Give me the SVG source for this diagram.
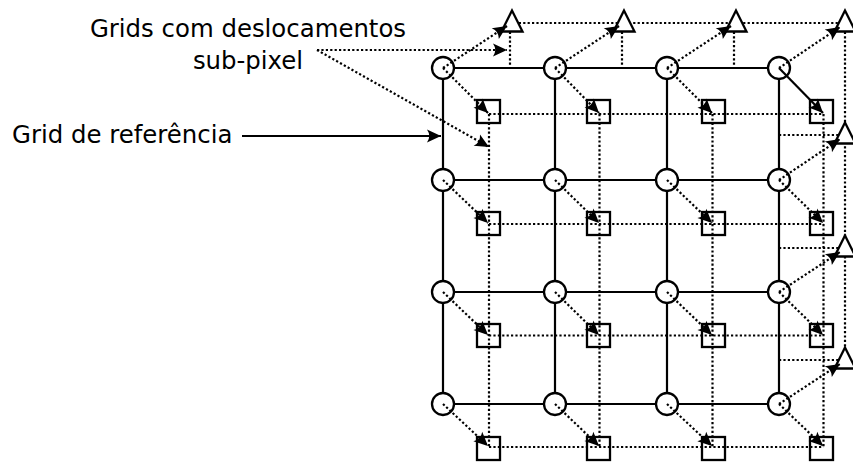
<svg xmlns="http://www.w3.org/2000/svg" width="853" height="464" viewBox="0 0 853 464">
<style>
.grid{stroke:#000;stroke-width:2.2;fill:none}
.dot{stroke:#000;stroke-width:2.2;stroke-dasharray:2.2 2.2;fill:none}
.arr{stroke:#000;stroke-width:2.2;stroke-dasharray:2.2 2.2;fill:none;marker-end:url(#ah)}
.sarr{stroke:#000;stroke-width:2.2;fill:none;marker-end:url(#ah)}
.c{fill:#fff;stroke:#000;stroke-width:2.3}
.s{fill:none;stroke:#000;stroke-width:2.3}
.t{fill:#fff;stroke:#000;stroke-width:2.3;stroke-linejoin:miter}
.lbl{font-family:"DejaVu Sans","Liberation Sans",sans-serif;font-size:24.4px;fill:#000}
</style>
<defs>
<marker id="ah" markerUnits="userSpaceOnUse" orient="auto" overflow="visible" markerWidth="1" markerHeight="1" refX="0" refY="0">
<path d="M0,0 L-14,-6.5 Q-9.5,0 -14,6.5 Z" fill="#000" stroke="none"/>
</marker>
<polygon id="tri" points="2,-12.5 -8.5,8.5 12.5,8.5"/>
</defs>
<rect width="853" height="464" fill="#fff"/>

<g id="connectors">
<path class="grid" d="M443,68H779M443,180H779M443,292H779M443,404H779M443,68V404M555,68V404M667,68V404M779,68V404"/>
<path class="dot" d="M489,114V447M599.5,114V447M712.5,114V447M823.5,114V447M489,114H823.5M489,224H823.5M489,335.5H823.5M489,447H823.5"/>
<path class="dot" d="M510,23H845M845,23V360M510,23V68M622,23V68M734,23V68M779,135H845M779,248H845M779,360H845"/>
<path class="sarr" d="M242,136H441"/>
<path class="arr" d="M317,50H507"/>
<path class="arr" d="M317,50L489,147"/>
</g>

<g id="nodes">
<g id="squares">
<rect id="sq11" class="s" x="477" y="100" width="23" height="23"/>
<rect id="sq12" class="s" x="587" y="100" width="23" height="23"/>
<rect id="sq13" class="s" x="702" y="100" width="23" height="23"/>
<rect id="sq14" class="s" x="810" y="100" width="23" height="23"/>
<rect id="sq21" class="s" x="477" y="212" width="23" height="23"/>
<rect id="sq22" class="s" x="587" y="212" width="23" height="23"/>
<rect id="sq23" class="s" x="702" y="212" width="23" height="23"/>
<rect id="sq24" class="s" x="810" y="212" width="23" height="23"/>
<rect id="sq31" class="s" x="477" y="324" width="23" height="23"/>
<rect id="sq32" class="s" x="587" y="324" width="23" height="23"/>
<rect id="sq33" class="s" x="702" y="324" width="23" height="23"/>
<rect id="sq34" class="s" x="810" y="324" width="23" height="23"/>
<rect id="sq41" class="s" x="477" y="437" width="23" height="23"/>
<rect id="sq42" class="s" x="587" y="437" width="23" height="23"/>
<rect id="sq43" class="s" x="702" y="437" width="23" height="23"/>
<rect id="sq44" class="s" x="810" y="437" width="23" height="23"/>
</g>
<g id="triangles">
<use id="tr1" href="#tri" class="t" x="510" y="23"/>
<use id="tr2" href="#tri" class="t" x="622" y="23"/>
<use id="tr3" href="#tri" class="t" x="734" y="23"/>
<use id="tr4" href="#tri" class="t" x="843" y="23"/>
<use id="tr5" href="#tri" class="t" x="843" y="135"/>
<use id="tr6" href="#tri" class="t" x="843" y="248"/>
<use id="tr7" href="#tri" class="t" x="843" y="360"/>
</g>
<g id="circles">
<circle id="c11" class="c" cx="443" cy="68" r="11"/>
<circle id="c12" class="c" cx="555" cy="68" r="11"/>
<circle id="c13" class="c" cx="667" cy="68" r="11"/>
<circle id="c14" class="c" cx="779" cy="68" r="11"/>
<circle id="c21" class="c" cx="443" cy="180" r="11"/>
<circle id="c22" class="c" cx="555" cy="180" r="11"/>
<circle id="c23" class="c" cx="667" cy="180" r="11"/>
<circle id="c24" class="c" cx="779" cy="180" r="11"/>
<circle id="c31" class="c" cx="443" cy="292" r="11"/>
<circle id="c32" class="c" cx="555" cy="292" r="11"/>
<circle id="c33" class="c" cx="667" cy="292" r="11"/>
<circle id="c34" class="c" cx="779" cy="292" r="11"/>
<circle id="c41" class="c" cx="443" cy="404" r="11"/>
<circle id="c42" class="c" cx="555" cy="404" r="11"/>
<circle id="c43" class="c" cx="667" cy="404" r="11"/>
<circle id="c44" class="c" cx="779" cy="404" r="11"/>
</g>
<g id="labels">
<text id="lbl-subpixel" class="lbl" text-anchor="middle"><tspan x="248" y="37">Grids com deslocamentos</tspan><tspan x="248" y="68.5">sub-pixel</tspan></text>
<text id="lbl-ref" class="lbl" x="12" y="143">Grid de referência</text>
</g>
</g>

<g id="offset-arrows">
<path class="arr" d="M443,68L488,113"/>
<path class="arr" d="M555,68L599,113"/>
<path class="arr" d="M667,68L712,113"/>
<path class="sarr" d="M779,68L823,113"/>
<path class="arr" d="M443,180L488,223"/>
<path class="arr" d="M555,180L599,223"/>
<path class="arr" d="M667,180L712,223"/>
<path class="arr" d="M779,180L823,223"/>
<path class="arr" d="M443,292L488,335"/>
<path class="arr" d="M555,292L599,335"/>
<path class="arr" d="M667,292L712,335"/>
<path class="arr" d="M779,292L823,335"/>
<path class="arr" d="M443,404L488,446"/>
<path class="arr" d="M555,404L599,446"/>
<path class="arr" d="M667,404L712,446"/>
<path class="arr" d="M779,404L823,446"/>
<path class="arr" d="M443,68L507,26"/>
<path class="arr" d="M555,68L619,26"/>
<path class="arr" d="M667,68L731,26"/>
<path class="arr" d="M779,68L840,27"/>
<path class="arr" d="M779,180L840,139"/>
<path class="arr" d="M779,292L840,252"/>
<path class="arr" d="M779,404L840,364"/>
</g>
</svg>
